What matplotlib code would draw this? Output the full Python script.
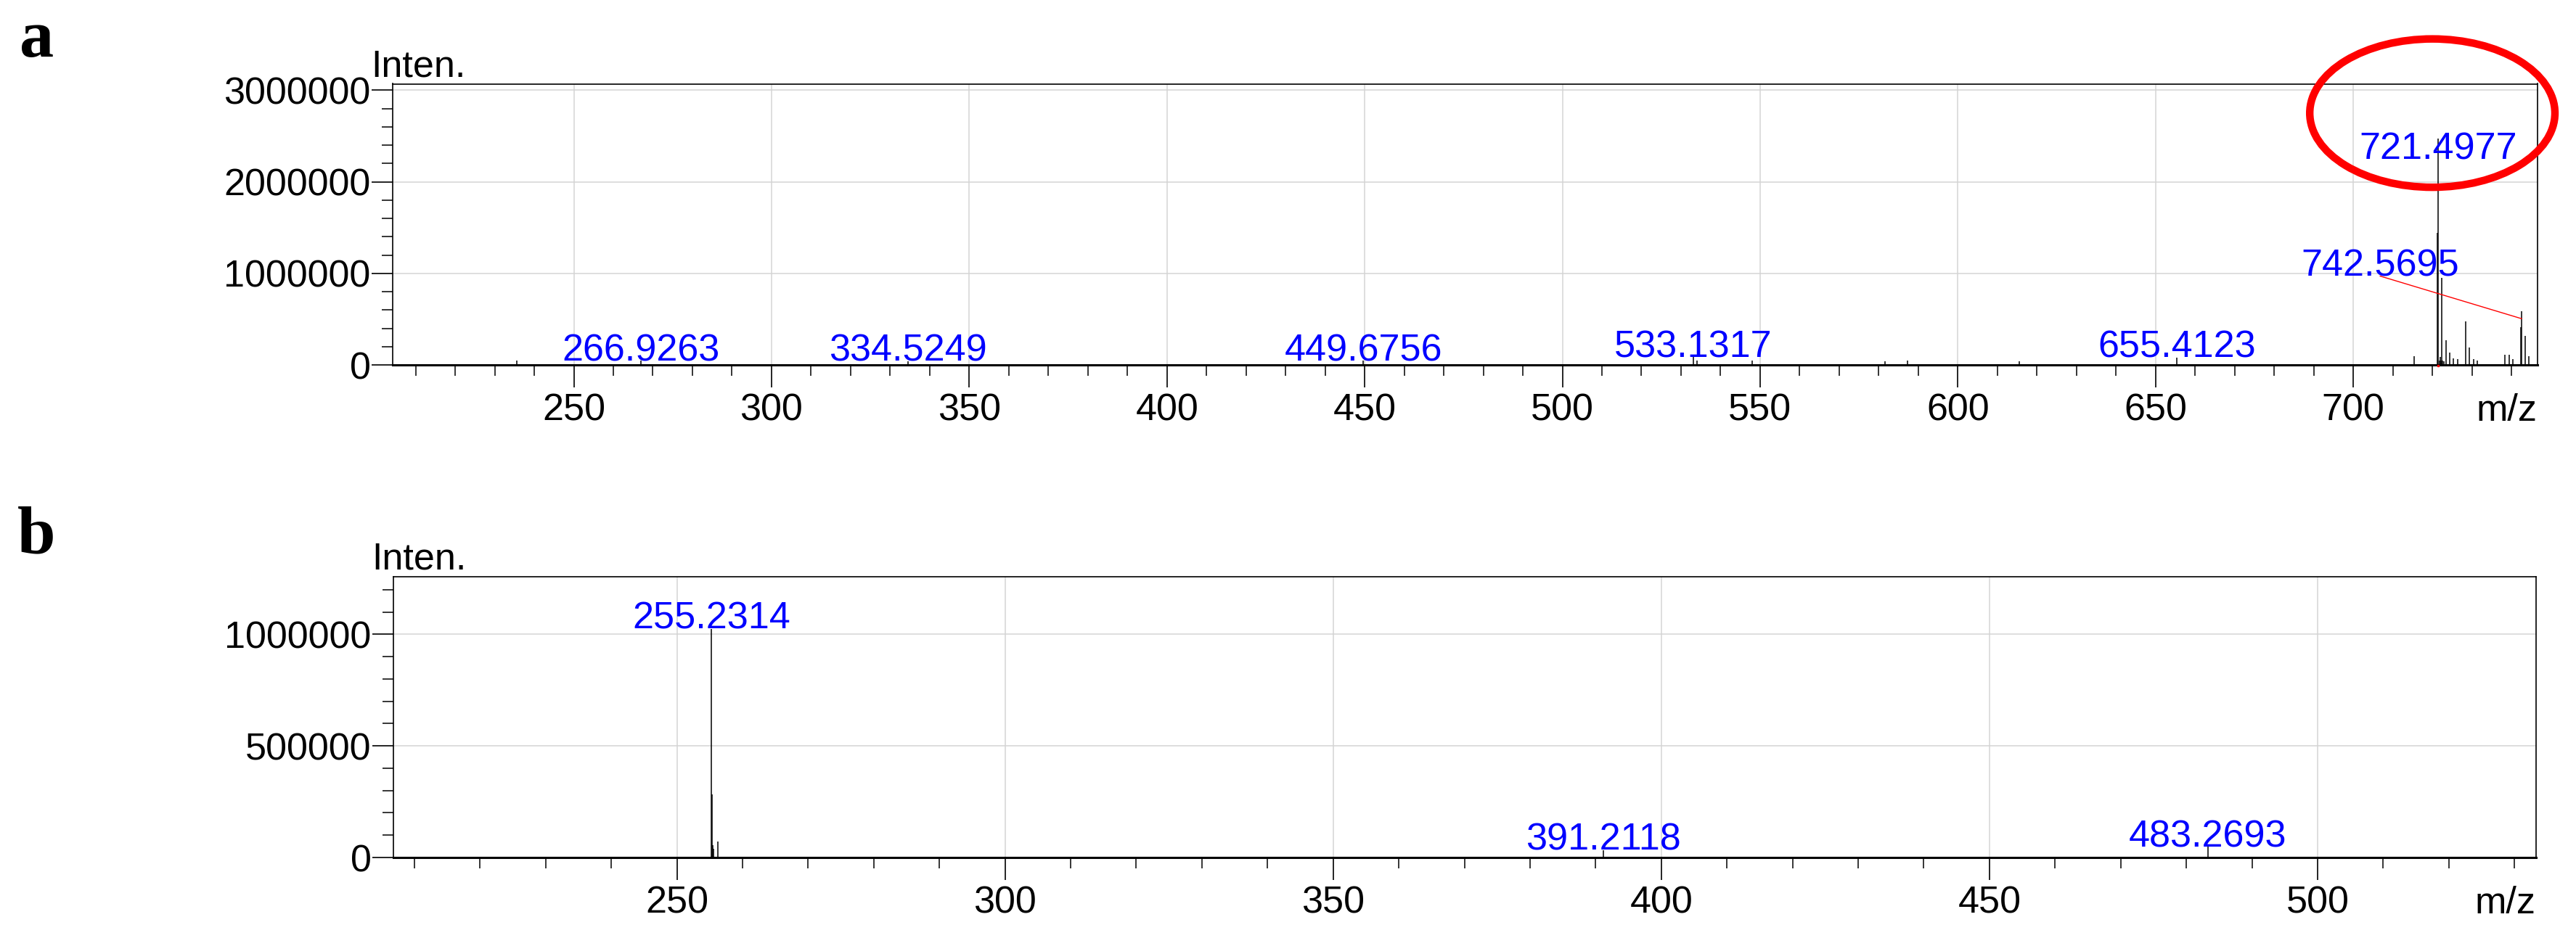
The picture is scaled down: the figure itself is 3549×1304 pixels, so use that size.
import matplotlib
matplotlib.use("Agg")
import matplotlib.pyplot as plt
from matplotlib.patches import Ellipse
from matplotlib.ticker import MultipleLocator, StrMethodFormatter

plt.rcParams['font.family'] = ['Liberation Sans', 'DejaVu Sans']

# ---- spectrum a (peaks: m/z, intensity) ----
mz_a = [235.6, 266.9263, 334.5249, 449.6756, 533.1317, 533.98, 548.06, 581.5, 587.3,
        615.5, 655.4123, 715.39, 721.26, 721.4977, 721.75, 721.99, 722.11, 722.30,
        722.54, 722.85, 723.46, 724.43, 725.35, 726.39, 728.47, 729.32, 730.42,
        731.34, 738.30, 739.40, 740.38, 742.33, 742.5695, 743.43, 744.35]
int_a = [47000, 47000, 42000, 47000, 87000, 47000, 47000, 42000, 47000,
         42000, 82000, 97000, 1442000, 2474000, 50000, 90000, 50000, 947000,
         50000, 40000, 271000, 137000, 74000, 66000, 479000, 192000, 66000,
         47000, 113000, 113000, 61000, 413000, 587000, 316000, 92000]

# labels of spectrum a: text, x of text, baseline y of text
lab_a = ['266.9263', '334.5249', '449.6756', '533.1317', '655.4123', '721.4977', '742.5695']
lab_a_x = [266.9263, 334.5249, 449.6756, 533.1317, 655.4123, 721.4977, 706.8]
lab_a_y = [47000, 42000, 47000, 87000, 82000, 2250000, 970000]

# ---- spectrum b ----
mz_b = [255.2314, 255.34, 255.45, 255.56, 256.23, 391.2118, 483.2693]
int_b = [1024000, 283000, 55000, 39000, 72000, 31000, 49000]

lab_b = ['255.2314', '391.2118', '483.2693']
lab_b_x = [255.2314, 391.2118, 483.2693]
lab_b_y = [1024000, 34500, 48000]

W, H = 3549, 1304
FS = 37.5

fig = plt.figure(figsize=(W / 100, H / 100), dpi=100)
ax1 = fig.add_axes([541 / W, 1 - 503 / H, (3496 - 541) / W, (503 - 115.5) / H])
ax2 = fig.add_axes([542 / W, 1 - 1182 / H, (3494 - 542) / W, (1182 - 794.6) / H])


def style(ax, xlim, ylim, ymaj, ymin):
    ax.set_xlim(*xlim)
    ax.set_ylim(*ylim)
    ax.xaxis.set_major_locator(MultipleLocator(50))
    ax.xaxis.set_minor_locator(MultipleLocator(10))
    ax.yaxis.set_major_locator(MultipleLocator(ymaj))
    ax.yaxis.set_minor_locator(MultipleLocator(ymin))
    ax.yaxis.set_major_formatter(StrMethodFormatter('{x:.0f}'))
    ax.set_axisbelow(True)
    ax.grid(which='major', color='#d4d4d4', lw=1.1)
    ax.tick_params(which='major', length=21, width=1.2, labelsize=FS, color='black')
    ax.tick_params(which='minor', length=11, width=1.1, color='black')
    ax.tick_params(axis='x', which='major', length=22, pad=6)
    ax.tick_params(axis='y', pad=1)
    for s in ax.spines.values():
        s.set_linewidth(1.2)
    ax.spines['bottom'].set_linewidth(2.2)
    ax.annotate('m/z', xy=(1, 0), xycoords='axes fraction', xytext=(0, -28),
                textcoords='offset points', ha='right', va='top', fontsize=FS)
    ax.annotate('Inten.', xy=(0, 1), xycoords='axes fraction', xytext=(-21.6, 7),
                textcoords='offset points', ha='left', va='baseline', fontsize=FS)


style(ax1, (204.2, 746.6), (0, 3070000), 1000000, 200000)
style(ax2, (206.8, 533.3), (0, 1259000), 500000, 100000)

ax1.vlines(mz_a, 0, int_a, color='black', lw=1.1, zorder=3)
ax2.vlines(mz_b, 0, int_b, color='black', lw=1.1, zorder=3)

for t, x, y in zip(lab_a, lab_a_x, lab_a_y):
    ax1.text(x, y, t, color='blue', ha='center', va='baseline', fontsize=FS, zorder=4)
for t, x, y in zip(lab_b, lab_b_x, lab_b_y):
    ax2.text(x, y, t, color='blue', ha='center', va='baseline', fontsize=FS, zorder=4)

# leader line for the moved label and highlight circle
ax1.plot([706.8, 742.5695], [970000, 505000], color='red', lw=1.0, zorder=5)
ax1.plot([721.4977], [-8000], marker='s', ms=2, color='red', clip_on=False, zorder=5)
ax1.add_patch(Ellipse((720.0, 2750000), width=62, height=1620000, fill=False,
                      ec='red', lw=7.5, clip_on=False, zorder=6))

fig.text(27 / W, 1 - 78 / H, 'a', fontsize=68, fontweight='bold',
         family=['Liberation Serif', 'DejaVu Serif'], va='baseline', ha='left')
fig.text(24 / W, 1 - 762 / H, 'b', fontsize=68, fontweight='bold',
         family=['Liberation Serif', 'DejaVu Serif'], va='baseline', ha='left')

fig.savefig('out.png', dpi=100)
